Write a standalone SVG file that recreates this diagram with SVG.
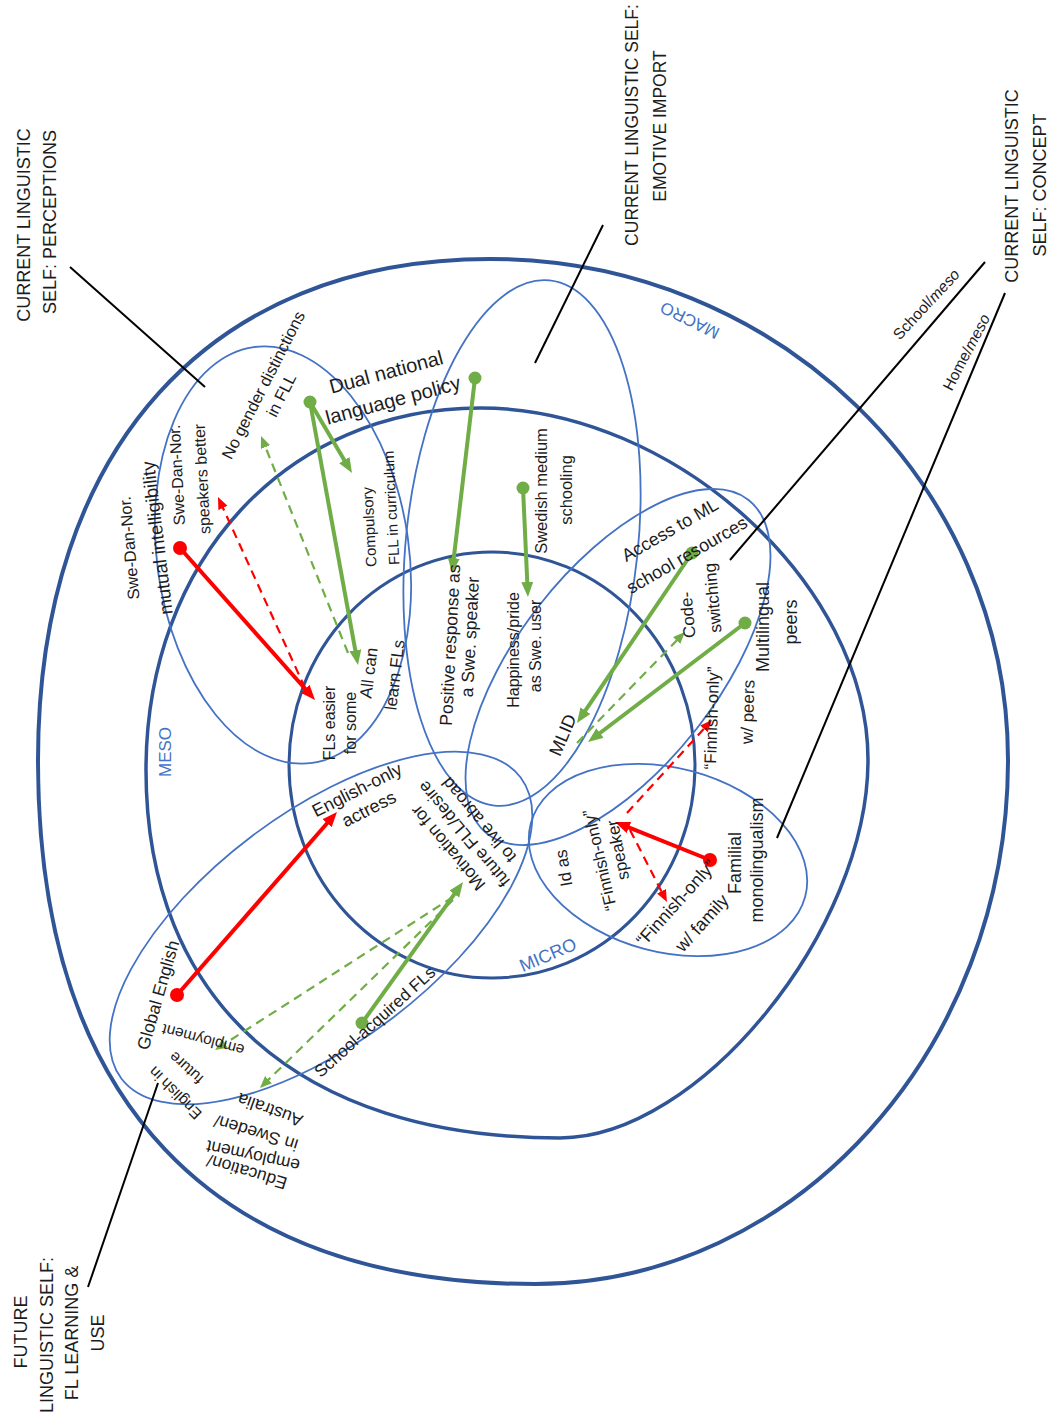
<svg xmlns="http://www.w3.org/2000/svg" width="1060" height="1413" viewBox="0 0 1060 1413">
<style>
text{font-family:'Liberation Sans',Arial,sans-serif;fill:#1c1c1c;text-anchor:middle;dominant-baseline:central}
.rl{fill:#4472C4}
.ring{fill:none;stroke:#2F5597}
.reg{fill:none;stroke:#4472C4;stroke-width:1.8}
.lead{stroke:#000;stroke-width:2;fill:none}
.g{stroke:#70AD47;fill:none}
.r{stroke:#FF0000;fill:none}
.solid{stroke-width:4}
.dash{stroke-width:2.2;stroke-dasharray:9 6}
</style>
<defs>
<marker id="aG" markerUnits="userSpaceOnUse" markerWidth="16" markerHeight="14" refX="5" refY="6" orient="auto"><path d="M0,0 L15,6 L0,12 z" fill="#70AD47"/></marker>
<marker id="aR" markerUnits="userSpaceOnUse" markerWidth="16" markerHeight="14" refX="5" refY="6" orient="auto"><path d="M0,0 L15,6 L0,12 z" fill="#FF0000"/></marker>
<marker id="aGs" markerUnits="userSpaceOnUse" markerWidth="14" markerHeight="12" refX="4" refY="5" orient="auto"><path d="M0,0 L12,5 L0,10 z" fill="#70AD47"/></marker>
<marker id="aRs" markerUnits="userSpaceOnUse" markerWidth="14" markerHeight="12" refX="4" refY="5" orient="auto"><path d="M0,0 L12,5 L0,10 z" fill="#FF0000"/></marker>
<marker id="dG" markerUnits="userSpaceOnUse" markerWidth="16" markerHeight="16" refX="8" refY="8"><circle cx="8" cy="8" r="6.5" fill="#70AD47"/></marker>
<marker id="dR" markerUnits="userSpaceOnUse" markerWidth="16" markerHeight="16" refX="8" refY="8"><circle cx="8" cy="8" r="7" fill="#FF0000"/></marker>
</defs>
<rect width="1060" height="1413" fill="#fff"/>

<g id="rings">
<path id="ring-macro" class="ring" stroke-width="4" d="M38,760 C38,449 210,259 490,259 C776,259 1008,483 1008,760 C1008,1049 796,1284 535,1284 C212,1284 38,1101 38,760 Z"/>
<path id="ring-meso" class="ring" stroke-width="3.5" d="M146,770 C146,560 287,408 480,408 C674,408 868,584 868,760 C868,930 699,1138 560,1138 C300,1138 146,1002 146,770 Z"/>
<ellipse id="ring-micro" class="ring" stroke-width="3" cx="492" cy="765" rx="203" ry="213"/>
<text class="rl" transform="translate(690,320) rotate(-154)" font-size="17">MACRO</text>
<text class="rl" transform="translate(165,752) rotate(-90)" font-size="17">MESO</text>
<text class="rl" transform="translate(548,955) rotate(-23)" font-size="18">MICRO</text>
</g>

<g id="regions">
<ellipse id="reg-perceptions" class="reg" cx="283" cy="555" rx="126" ry="210" transform="rotate(-8 283 555)"/>
<ellipse id="reg-emotive" class="reg" cx="522" cy="543" rx="116" ry="264" transform="rotate(6 522 543)"/>
<ellipse id="reg-school" class="reg" cx="618" cy="667" rx="212" ry="100" transform="rotate(-52 618 667)"/>
<ellipse id="reg-home" class="reg" cx="668" cy="860" rx="142" ry="92" transform="rotate(15 668 860)"/>
<ellipse id="reg-future" class="reg" cx="321" cy="928" rx="250" ry="115" transform="rotate(-37 321 928)"/>
</g>

<g id="leaders">
<line class="lead" x1="70" y1="267" x2="205" y2="387"/>
<line class="lead" x1="603" y1="225" x2="535" y2="363"/>
<line class="lead" x1="985" y1="262" x2="730" y2="560"/>
<line class="lead" x1="1005" y1="293" x2="777" y2="838"/>
<line class="lead" x1="158" y1="1083" x2="88" y2="1287"/>
</g>

<g id="label-perceptions">
<text transform="translate(24,225) rotate(-90)" font-size="18">CURRENT LINGUISTIC</text>
<text transform="translate(50,222) rotate(-90)" font-size="18">SELF: PERCEPTIONS</text>
</g>
<g id="label-emotive">
<text transform="translate(632,125) rotate(-90)" font-size="17.5">CURRENT LINGUISTIC SELF:</text>
<text transform="translate(660,126) rotate(-90)" font-size="17.5">EMOTIVE IMPORT</text>
</g>
<g id="label-concept">
<text transform="translate(1012,186) rotate(-90)" font-size="18">CURRENT LINGUISTIC</text>
<text transform="translate(1040,185) rotate(-90)" font-size="18">SELF: CONCEPT</text>
<text transform="translate(926,304) rotate(-47.5)" font-size="15.5">School/<tspan font-style="italic">meso</tspan></text>
<text transform="translate(966,352) rotate(-62.6)" font-size="15.5">Home/<tspan font-style="italic">meso</tspan></text>
</g>
<g id="label-future">
<text transform="translate(21,1332) rotate(-90)" font-size="18">FUTURE</text>
<text transform="translate(47,1335) rotate(-90)" font-size="18">LINGUISTIC SELF:</text>
<text transform="translate(72,1333) rotate(-90)" font-size="18">FL LEARNING &amp;</text>
<text transform="translate(98,1333) rotate(-90)" font-size="18">USE</text>
</g>

<g id="connectors">
<path class="g solid" d="M310,402 L346.9,464.4" marker-start="url(#dG)" marker-end="url(#aG)"/>
<path class="g solid" d="M310,402 L356.2,655.2" marker-end="url(#aG)"/>
<path class="g dash" d="M348,653 L264,443.4" marker-end="url(#aGs)"/>
<path class="r solid" d="M180,548 L308.4,692.5" marker-start="url(#dR)" marker-end="url(#aR)"/>
<path class="r dash" d="M305,688 L221.3,504.3" marker-end="url(#aRs)"/>
<path class="g solid" d="M475,378 L453.2,563.1" marker-start="url(#dG)" marker-end="url(#aG)"/>
<path class="g solid" d="M523,488 L527.5,587" marker-start="url(#dG)" marker-end="url(#aG)"/>
<path class="g solid" d="M692,553 L582.6,714.7" marker-start="url(#dG)" marker-end="url(#aG)"/>
<path class="g dash" d="M577,743 L679.4,637.7" marker-end="url(#aGs)"/>
<path class="g solid" d="M745,623 L596,736" marker-start="url(#dG)" marker-end="url(#aG)"/>
<path class="r dash" d="M627,813 L706.6,725.9" marker-end="url(#aRs)"/>
<path class="r solid" d="M710,860 L624.3,825.7" marker-start="url(#dR)" marker-end="url(#aR)"/>
<path class="r dash" d="M630,830 L663.3,894.9" marker-end="url(#aRs)"/>
<path class="r solid" d="M177,995 L330.4,819.5" marker-start="url(#dR)" marker-end="url(#aR)"/>
<path class="g solid" d="M362,1023 L457.2,890.1" marker-start="url(#dG)" marker-end="url(#aG)"/>
<path class="g dash" d="M453,897 L221.7,1045.7" marker-end="url(#aGs)"/>
<path class="g dash" d="M453,900 L265.7,1082.4" marker-end="url(#aGs)"/>
</g>

<g id="node-mutual-intelligibility">
<text transform="translate(129,548) rotate(-95)" font-size="16.5">Swe-Dan-Nor.</text>
<text transform="translate(157,538) rotate(-97)" font-size="18.5">mutual intelligibility</text>
</g>
<g id="node-speakers-better">
<text transform="translate(177,475) rotate(-93)" font-size="16">Swe-Dan-Nor.</text>
<text transform="translate(202,479) rotate(-93)" font-size="16">speakers better</text>
</g>
<g id="node-no-gender">
<text transform="translate(263,385) rotate(-63)" font-size="16.5">No gender distinctions</text>
<text transform="translate(281,395) rotate(-63)" font-size="16.5">in FLL</text>
</g>
<g id="node-dual-policy">
<text transform="translate(386,372) rotate(-15)" font-size="20">Dual national</text>
<text transform="translate(393,400) rotate(-15)" font-size="20">language policy</text>
</g>
<g id="node-compulsory">
<text transform="translate(369,527) rotate(-93)" font-size="15">Compulsory</text>
<text transform="translate(391,508) rotate(-93)" font-size="15">FLL in curriculum</text>
</g>
<g id="node-fls-easier">
<text transform="translate(329,723) rotate(-90)" font-size="16">FLs easier</text>
<text transform="translate(350,723) rotate(-90)" font-size="16">for some</text>
</g>
<g id="node-all-can">
<text transform="translate(369,673) rotate(-83)" font-size="17">All can</text>
<text transform="translate(395,675) rotate(-83)" font-size="17">learn FLs</text>
</g>
<g id="node-positive-response">
<text transform="translate(450,645) rotate(-87)" font-size="17.5">Positive response as</text>
<text transform="translate(470,637) rotate(-87)" font-size="17.5">a Swe. speaker</text>
</g>
<g id="node-happiness">
<text transform="translate(513,650) rotate(-90)" font-size="16">Happiness/pride</text>
<text transform="translate(535,646) rotate(-90)" font-size="16">as Swe. user</text>
</g>
<g id="node-swedish-medium">
<text transform="translate(541,491) rotate(-90)" font-size="16.5">Swedish medium</text>
<text transform="translate(566,490) rotate(-90)" font-size="16.5">schooling</text>
</g>
<g id="node-access-ml">
<text transform="translate(670,530) rotate(-30)" font-size="18">Access to ML</text>
<text transform="translate(687,555) rotate(-30)" font-size="18">school resources</text>
</g>
<g id="node-code-switching">
<text transform="translate(688,615) rotate(-95)" font-size="17">Code-</text>
<text transform="translate(713,598) rotate(-95)" font-size="17">switching</text>
</g>
<g id="node-multilingual-peers">
<text transform="translate(763,627) rotate(-90)" font-size="18">Multilingual</text>
<text transform="translate(791,622) rotate(-90)" font-size="18">peers</text>
</g>
<g id="node-mlid">
<text transform="translate(563,735) rotate(-67)" font-size="18">MLID</text>
</g>
<g id="node-finnish-peers">
<text transform="translate(712,718) rotate(-88)" font-size="17">“Finnish-only”</text>
<text transform="translate(748,712) rotate(-88)" font-size="17">w/ peers</text>
</g>
<g id="node-id-finnish">
<text transform="translate(564,868) rotate(-100)" font-size="17">Id as</text>
<text transform="translate(600,860) rotate(-103)" font-size="17">“Finnish-only”</text>
<text transform="translate(618,850) rotate(-101)" font-size="17">speaker</text>
</g>
<g id="node-finnish-family">
<text transform="translate(676,903) rotate(-48)" font-size="18">“Finnish-only”</text>
<text transform="translate(702,923) rotate(-48)" font-size="18">w/ family</text>
</g>
<g id="node-familial">
<text transform="translate(735,863) rotate(-90)" font-size="18">Familial</text>
<text transform="translate(757,860) rotate(-90)" font-size="18">monolingualism</text>
</g>
<g id="node-english-actress">
<text transform="translate(357,790) rotate(-27)" font-size="18">English-only</text>
<text transform="translate(369,809) rotate(-27)" font-size="18">actress</text>
</g>
<g id="node-motivation">
<text transform="translate(448,848) rotate(-130)" font-size="17.5">Motivation for</text>
<text transform="translate(464,834) rotate(-130)" font-size="17.5">future FLL/desire</text>
<text transform="translate(479,820) rotate(-130)" font-size="17.5">to live abroad</text>
</g>
<g id="node-global-english">
<text transform="translate(158,995) rotate(-74)" font-size="17.5">Global English</text>
</g>
<g id="node-school-acquired">
<text transform="translate(375,1022) rotate(-42)" font-size="17">School-acquired FLs</text>
</g>
<g id="node-english-future">
<text transform="translate(175,1093) rotate(-135)" font-size="15.5">English in</text>
<text transform="translate(186,1068) rotate(-138)" font-size="15.5">future</text>
<text transform="translate(203,1040) rotate(-165)" font-size="15.5">employment</text>
</g>
<g id="node-education">
<text transform="translate(247,1172) rotate(-163)" font-size="17.5">Education/</text>
<text transform="translate(253,1156) rotate(-168)" font-size="17.5">employment</text>
<text transform="translate(256,1133) rotate(-163)" font-size="17.5">in Sweden/</text>
<text transform="translate(270,1110) rotate(-160)" font-size="17.5">Australia</text>
</g>
</svg>
